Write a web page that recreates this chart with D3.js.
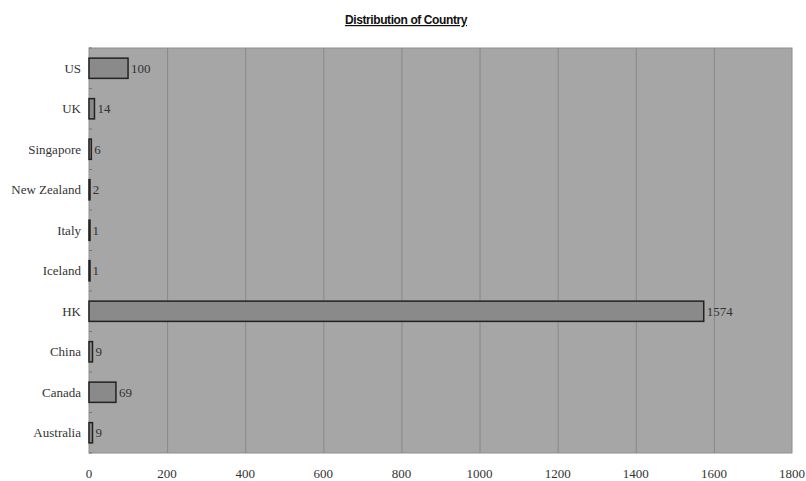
<!DOCTYPE html>
<html>
<head>
<meta charset="utf-8">
<script src="https://cdn.jsdelivr.net/npm/d3@7"></script>
<style>
body { margin: 0; background: #fff; }
text { font-family: "Liberation Serif", "DejaVu Serif", serif; }
</style>
</head>
<body>
<script>
// chart data
var countries = ["US", "UK", "Singapore", "New Zealand", "Italy", "Iceland", "HK", "China", "Canada", "Australia"];
var counts = [100, 14, 6, 2, 1, 1, 1574, 9, 69, 9];
var xTicks = [0, 200, 400, 600, 800, 1000, 1200, 1400, 1600, 1800];

var width = 806, height = 481;
var margin = { top: 48, right: 14, bottom: 28, left: 89 };

var svg = d3.select("body").append("svg")
	.attr("width", width)
	.attr("height", height);

var x = d3.scaleLinear().domain([0, 1800]).range([margin.left, width - margin.right]);
var y = d3.scaleBand().domain(countries).range([margin.top, height - margin.bottom]).paddingInner(0.5).paddingOuter(0.25);

// plot background
svg.append("rect")
	.attr("x", x(0))
	.attr("y", margin.top)
	.attr("width", x(1800) - x(0))
	.attr("height", height - margin.bottom - margin.top)
	.attr("fill", "#a6a6a6")
	.attr("stroke", "#8e8e8e")
	.attr("stroke-width", 1);

// vertical gridlines
svg.append("g")
	.selectAll("line")
	.data(xTicks.slice(1, -1))
	.enter().append("line")
	.attr("x1", function(d) { return x(d) + 0.5; })
	.attr("x2", function(d) { return x(d) + 0.5; })
	.attr("y1", margin.top)
	.attr("y2", height - margin.bottom)
	.attr("stroke", "#888")
	.attr("stroke-width", 1);

// small ticks on the category axis
svg.append("g")
	.selectAll("line")
	.data(d3.range(countries.length + 1))
	.enter().append("line")
	.attr("x1", x(0))
	.attr("x2", x(0) + 3)
	.attr("y1", function(i) { return margin.top + i * (height - margin.bottom - margin.top) / countries.length; })
	.attr("y2", function(i) { return margin.top + i * (height - margin.bottom - margin.top) / countries.length; })
	.attr("stroke", "#777");

// bars
svg.append("g")
	.selectAll("rect")
	.data(countries)
	.enter().append("rect")
	.attr("x", x(0))
	.attr("y", function(d) { return y(d); })
	.attr("width", function(d, i) { return Math.max(x(counts[i]) - x(0), 1); })
	.attr("height", y.bandwidth())
	.attr("fill", "#8a8a8a")
	.attr("stroke", "#222")
	.attr("stroke-width", 1.5);

// value labels
svg.append("g")
	.selectAll("text")
	.data(countries)
	.enter().append("text")
	.attr("x", function(d, i) { return x(counts[i]) + 3; })
	.attr("y", function(d) { return y(d) + y.bandwidth() / 2; })
	.attr("dy", "0.35em")
	.attr("font-size", 13)
	.attr("fill", "#333")
	.text(function(d, i) { return counts[i]; });

// category labels
svg.append("g")
	.selectAll("text")
	.data(countries)
	.enter().append("text")
	.attr("x", x(0) - 8)
	.attr("y", function(d) { return y(d) + y.bandwidth() / 2; })
	.attr("dy", "0.35em")
	.attr("text-anchor", "end")
	.attr("font-size", 13)
	.attr("fill", "#333")
	.text(function(d) { return d; });

// x tick labels
svg.append("g")
	.selectAll("text")
	.data(xTicks)
	.enter().append("text")
	.attr("x", function(d) { return x(d); })
	.attr("y", 478)
	.attr("text-anchor", "middle")
	.attr("font-size", 13)
	.attr("fill", "#333")
	.text(function(d) { return d; });

// title
svg.append("text")
	.attr("x", 406)
	.attr("y", 24)
	.attr("text-anchor", "middle")
	.style("font-family", "'Liberation Sans', Arial, sans-serif")
	.attr("font-size", 12)
	.attr("font-weight", "bold")
	.attr("letter-spacing", -0.4)
	.attr("text-decoration", "underline")
	.attr("fill", "#111")
	.text("Distribution of Country");
</script>
</body>
</html>
